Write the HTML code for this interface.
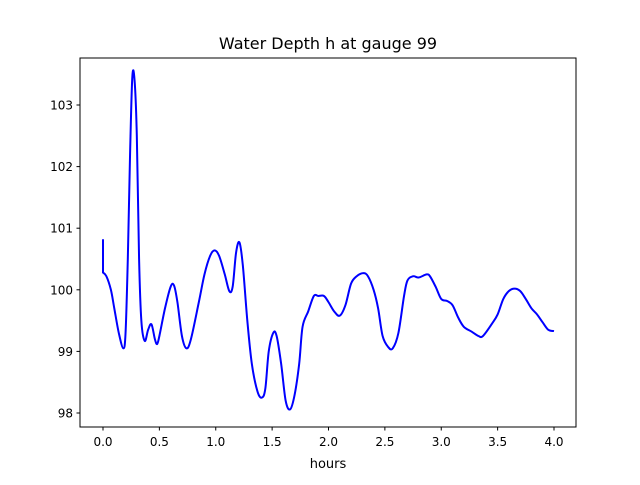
<!DOCTYPE html>
<html><head><meta charset="utf-8"><style>
body{margin:0;background:#fff}
svg text{font-family:"DejaVu Sans","Liberation Sans",sans-serif;fill:#000}
</style></head><body>
<svg id="chart" width="640" height="480" xmlns="http://www.w3.org/2000/svg">
<rect width="640" height="480" fill="#fff"/>
<text x="328" y="49" font-size="16" text-anchor="middle">Water Depth h at gauge 99</text>
<g id="ticks"></g>
<path id="line" fill="none" stroke="#0000ff" stroke-width="2"/>
<rect x="80" y="58" width="496" height="369" fill="none" stroke="#000" stroke-width="1"/>
<text x="328" y="468" font-size="13" text-anchor="middle">hours</text>
</svg>
<script>
const hours=[0,0,0.03,0.07,0.1,0.14,0.18,0.2,0.22,0.24,0.26,0.28,0.3,0.32,0.34,0.37,0.4,0.43,0.46,0.48,0.5,0.55,0.6,0.63,0.66,0.7,0.74,0.78,0.85,0.9,0.95,0.99,1.03,1.08,1.12,1.15,1.18,1.21,1.24,1.28,1.32,1.37,1.41,1.44,1.47,1.51,1.54,1.58,1.62,1.66,1.7,1.74,1.77,1.82,1.87,1.91,1.96,2.0,2.05,2.1,2.15,2.2,2.25,2.31,2.35,2.4,2.44,2.48,2.53,2.57,2.62,2.67,2.7,2.75,2.8,2.87,2.9,2.95,3.0,3.05,3.1,3.15,3.2,3.27,3.33,3.37,3.45,3.5,3.55,3.6,3.65,3.7,3.75,3.8,3.85,3.9,3.95,4.0];
const depth=[100.82,100.28,100.22,100.0,99.7,99.3,99.05,99.3,100.5,102.2,103.45,103.4,102.5,100.5,99.5,99.17,99.35,99.44,99.2,99.12,99.25,99.7,100.05,100.07,99.8,99.25,99.05,99.2,99.8,100.25,100.55,100.64,100.55,100.25,99.98,100.05,100.6,100.77,100.4,99.5,98.8,98.35,98.25,98.4,99.0,99.3,99.25,98.8,98.2,98.06,98.3,98.8,99.4,99.65,99.9,99.9,99.9,99.8,99.65,99.58,99.75,100.1,100.22,100.27,100.22,100.0,99.7,99.25,99.07,99.05,99.3,99.9,100.15,100.22,100.2,100.25,100.22,100.05,99.85,99.82,99.75,99.55,99.4,99.32,99.25,99.25,99.45,99.6,99.85,99.98,100.02,99.98,99.85,99.7,99.6,99.47,99.35,99.33];
const xTicks=[0,0.5,1,1.5,2,2.5,3,3.5,4];
const xTickLabels=["0.0","0.5","1.0","1.5","2.0","2.5","3.0","3.5","4.0"];
const yTicks=[98,99,100,101,102,103];
const yTickLabels=["98","99","100","101","102","103"];
const NS="http://www.w3.org/2000/svg";
function xs(v){return 103+v*112.75;}
function ys(v){return 413-(v-98)*61.6;}
const g=document.getElementById('ticks');
function mk(t,a){const e=document.createElementNS(NS,t);for(const k in a)e.setAttribute(k,a[k]);g.appendChild(e);return e;}
xTicks.forEach((t,i)=>{
  const l=mk('line',{x1:xs(t),x2:xs(t),y1:427,y2:430.5,stroke:'#000'});
  
  
  const tx=mk('text',{x:xs(t),y:446,'font-size':12,'text-anchor':'middle'});
  tx.textContent=xTickLabels[i];
  
  
});
yTicks.forEach((t,i)=>{
  const l=mk('line',{x1:76.5,x2:80,y1:ys(t),y2:ys(t),stroke:'#000'});
  
  
  const tx=mk('text',{x:73,y:ys(t)+4.5,'font-size':12,'text-anchor':'end'});
  tx.textContent=yTickLabels[i];
  
  
});
const P=hours.map((h,i)=>[xs(h),ys(depth[i])]);
let d='M'+P[0][0]+','+P[0][1]+' L'+P[1][0]+','+P[1][1];
for(let i=1;i<P.length-1;i++){
  const p0=P[Math.max(i-1,1)],p1=P[i],p2=P[i+1],p3=P[Math.min(i+2,P.length-1)];
  const c1=[p1[0]+(p2[0]-p0[0])/6,p1[1]+(p2[1]-p0[1])/6];
  const c2=[p2[0]-(p3[0]-p1[0])/6,p2[1]-(p3[1]-p1[1])/6];
  d+=' C'+c1[0].toFixed(2)+','+c1[1].toFixed(2)+' '+c2[0].toFixed(2)+','+c2[1].toFixed(2)+' '+p2[0].toFixed(2)+','+p2[1].toFixed(2);
}
document.getElementById('line').setAttribute('d',d);
</script>
</body></html>
